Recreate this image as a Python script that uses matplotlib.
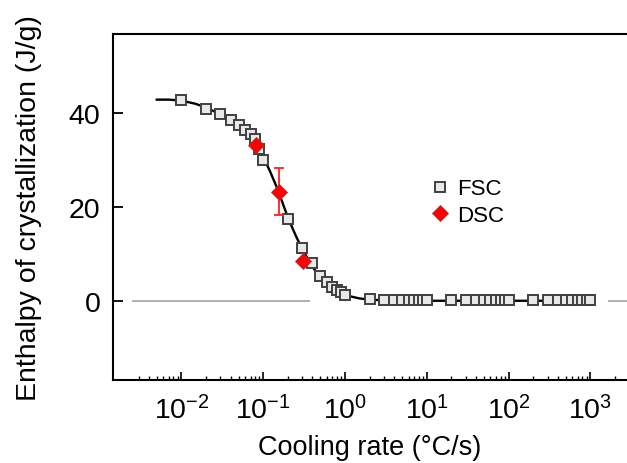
import numpy as np
import matplotlib
matplotlib.use("Agg")
import matplotlib.pyplot as plt
from matplotlib.ticker import FixedLocator, FuncFormatter, NullFormatter
from matplotlib.lines import Line2D

plt.rcParams['font.family'] = ['Liberation Sans', 'DejaVu Sans']
plt.rcParams['mathtext.fontset'] = 'custom'
plt.rcParams['mathtext.rm'] = 'Liberation Sans'
plt.rcParams['mathtext.it'] = 'Liberation Sans'
plt.rcParams['mathtext.bf'] = 'Liberation Sans:bold'

# FSC data (cooling rate in °C/s, enthalpy in J/g)
fsc_x = [0.01, 0.02, 0.03, 0.04, 0.05, 0.06, 0.07, 0.08, 0.09, 0.1,
         0.2, 0.3, 0.4, 0.5, 0.6, 0.7, 0.8, 0.9, 1.0,
         2, 3, 4, 5, 6, 7, 8, 9, 10,
         20, 30, 40, 50, 60, 70, 80, 90, 100,
         200, 300, 400, 500, 600, 700, 800, 900, 1000]
fsc_y = [42.9, 40.8, 39.8, 38.6, 37.4, 36.5, 35.6, 34.6, 32.3, 30.1,
         17.4, 11.3, 8.1, 5.2, 4.1, 2.9, 2.4, 1.8, 1.3,
         0.3, 0.2, 0.2, 0.2, 0.2, 0.2, 0.2, 0.2, 0.2,
         0.1, 0.1, 0.1, 0.1, 0.1, 0.1, 0.1, 0.1, 0.1,
         0.1, 0.1, 0.1, 0.1, 0.1, 0.1, 0.1, 0.1, 0.1]

# DSC data
dsc_x = [0.082, 0.157, 0.31]
dsc_y = [33.3, 23.3, 8.5]
dsc_err = [0.0, 5.0, 0.0]

# Fitted curve
fit_x = [0.005, 0.007, 0.01, 0.015, 0.02, 0.03, 0.04, 0.05, 0.06, 0.07, 0.08,
         0.1, 0.12, 0.15, 0.2, 0.25, 0.3, 0.4, 0.5, 0.7, 1.0, 1.5, 2, 3, 5,
         10, 100, 1000]
fit_y = [42.9, 42.9, 42.7, 42.0, 41.2, 39.8, 38.6, 37.4, 36.2, 35.0, 34.0,
         30.6, 27.8, 23.8, 17.8, 13.9, 11.0, 7.3, 4.8, 2.5, 1.2, 0.5, 0.25, 0.1, 0.0,
         0.0, 0.0, 0.0]

x_major = [1e-2, 1e-1, 1e0, 1e1, 1e2, 1e3]
x_minor = [m * 10.0 ** e for e in range(-3, 4) for m in range(2, 10) if m * 10.0 ** e >= 3e-3]
y_ticks = [0, 20, 40]

fig = plt.figure(figsize=(6.27, 4.64), dpi=100)
ax = fig.add_axes([113 / 627, 1 - 381 / 464, 1 - 113 / 627, (381 - 35) / 464])

ax.set_xscale('log')
ax.set_xlim(1.46e-3, 2.8e3)
ax.set_ylim(-16.9, 56.9)

# zero reference line (two gray segments)
ax.hlines(0, 2.5e-3, 0.373, color='#aaaaaa', lw=1.3, zorder=1)
ax.hlines(0, 1640, 1e4, color='#aaaaaa', lw=1.3, zorder=1)

ax.plot(fit_x, fit_y, color='black', lw=1.7, zorder=2)
ax.plot(fsc_x, fsc_y, ls='none', marker='s', ms=7.2, mfc='#e8e8e8', mec='#404040',
        mew=1.4, zorder=3)
ax.errorbar(dsc_x, dsc_y, yerr=dsc_err, fmt='none', ecolor='#ff2020', elinewidth=1.3,
            capsize=3.5, capthick=1.3, zorder=4)
ax.plot(dsc_x, dsc_y, ls='none', marker='D', ms=8, mfc='#ff0000', mec='#b03030',
        mew=0.6, zorder=5)

ax.xaxis.set_major_locator(FixedLocator(x_major))
ax.xaxis.set_minor_locator(FixedLocator(x_minor))
ax.xaxis.set_major_formatter(FuncFormatter(lambda v, p: "10$^{%d}$" % int(round(np.log10(v)))))
ax.xaxis.set_minor_formatter(NullFormatter())
ax.set_yticks(y_ticks)

ax.tick_params(axis='x', which='major', direction='in', length=5.5, width=1.2,
               labelsize=20.5, pad=11, top=False)
ax.tick_params(axis='x', which='minor', direction='in', length=3, width=1.0, top=False)
ax.tick_params(axis='y', which='major', direction='in', length=7.5, width=1.3,
               labelsize=20.5, pad=9, right=False)

for s in ['left', 'bottom', 'top']:
    ax.spines[s].set_linewidth(1.5)
ax.spines['right'].set_visible(False)

ax.set_xlabel('Cooling rate (°C/s)', fontsize=19.5, labelpad=7)
ax.set_ylabel('Enthalpy of crystallization (J/g)', fontsize=20.5, labelpad=19)

handles = [Line2D([], [], ls='none', marker='s', ms=7.2, mfc='#e8e8e8', mec='#404040', mew=1.4),
           Line2D([], [], ls='none', marker='D', ms=8, mfc='#ff0000', mec='#b03030', mew=0.6)]
ax.legend(handles, ['FSC', 'DSC'], loc='center left', bbox_to_anchor=(0.592, 0.514),
          frameon=False, fontsize=16, handlelength=1.0, handletextpad=0.3,
          labelspacing=0.25, borderpad=0)

fig.savefig('out.png', dpi=100)
